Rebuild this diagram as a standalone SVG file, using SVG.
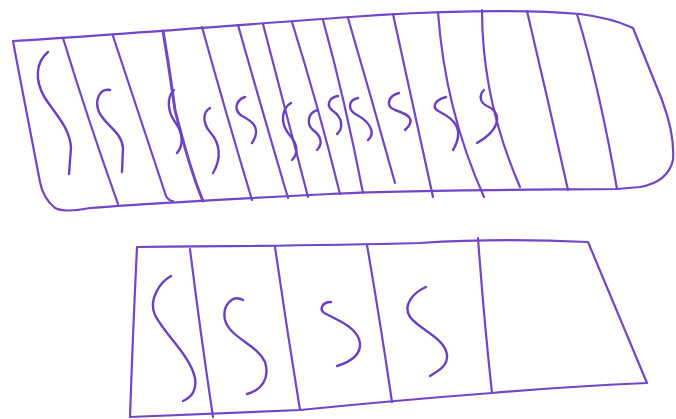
<svg xmlns="http://www.w3.org/2000/svg" width="676" height="419" viewBox="0 0 676 419">
<style>
.pen{fill:none;stroke:#7246c8;stroke-width:2.2;stroke-linecap:round;stroke-linejoin:round}
.thick{stroke-width:3}
.sq{fill:none;stroke:#6a3fc4;stroke-width:2.4;stroke-linecap:round;stroke-linejoin:round}
</style>
<rect width="676" height="419" fill="#ffffff"/>
<g id="top-strip">
<path class="pen" d="M13,41 C100,36 250,24 350,17 C430,11 520,9 580,14 Q612,18 633,28 L662,100 Q675,135 673,160 Q668,182 640,187 L617,189 C500,190 400,190 330,194 C250,198 150,203 90,208 Q65,213 55,208 Q43,198 40,182 C32,140 22,90 13,41 Z"/>
<g id="top-dividers">
<path class="pen" d="M63,38 Q88,120 118,204"/>
<path class="pen" d="M113,36 Q140,118 166,196 Q169,201 173,201"/>
<path class="pen thick" d="M163,31 Q168,60 175,110 Q190,170 203,201"/>
<path class="pen" d="M202,27 Q225,110 252,200"/>
<path class="pen" d="M238,25 Q262,110 288,198"/>
<path class="pen" d="M263,24 Q285,110 308,197"/>
<path class="pen" d="M292,22 Q318,105 340,194"/>
<path class="pen" d="M323,20 Q345,100 363,193"/>
<path class="pen" d="M348,18 Q372,100 395,183"/>
<path class="pen" d="M393,14 Q412,100 433,197"/>
<path class="pen" d="M438,12 Q445,110 484,197"/>
<path class="pen" d="M482,10 Q482,100 520,187"/>
<path class="pen" d="M527,11 Q548,100 568,190"/>
<path class="pen" d="M577,14 Q600,90 617,189"/>
</g>
<g id="top-squiggles">
<path class="sq" d="M48,52 C36,62 34,80 45,98 C56,115 70,128 71,148 L69,174"/>
<path class="sq" d="M110,90 C100,88 94,100 99,112 C105,125 122,132 123,148 L122,172"/>
<path class="sq" d="M174,90 C166,98 168,112 175,122 C183,132 184,145 177,153"/>
<path class="sq" d="M210,108 C203,112 202,122 210,132 C220,143 222,158 213,173"/>
<path class="sq" d="M245,97 C236,100 233,110 242,116 C252,121 262,128 252,143"/>
<path class="sq" d="M291,103 C282,108 280,122 288,133 C296,142 300,152 292,160"/>
<path class="sq" d="M318,110 C308,112 306,124 313,130 C320,135 324,143 317,150"/>
<path class="sq" d="M338,96 C328,98 326,106 333,111 C342,117 344,128 337,134"/>
<path class="sq" d="M358,98 C348,100 347,110 357,115 C370,122 376,133 368,140"/>
<path class="sq" d="M399,93 C388,96 385,106 395,110 C406,114 418,118 405,130"/>
<path class="sq" d="M446,97 C434,100 431,108 440,112 C452,118 466,128 453,150"/>
<path class="sq" d="M484,90 C479,95 479,103 489,107 C500,112 503,128 477,143"/>
</g>
</g>
<g id="bottom-strip">
<path class="pen" d="M137,247 Q300,246 420,243 Q500,238 588,242 L647,383 Q560,387 492,393 Q400,400 300,410 L130,417 Q133,330 137,247 Z"/>
<g id="bottom-dividers">
<path class="pen" d="M190,249 Q200,330 213,417"/>
<path class="pen" d="M275,247 Q287,330 300,410"/>
<path class="pen" d="M367,245 Q380,320 392,402"/>
<path class="pen" d="M478,238 Q484,320 492,393"/>
</g>
<g id="bottom-squiggles">
<path class="sq" d="M171,276 C160,282 148,300 155,315 C165,335 190,355 195,378 C197,392 190,398 183,401"/>
<path class="sq" d="M243,300 C232,294 222,306 225,320 C230,338 258,345 265,362 C270,378 262,390 247,394"/>
<path class="sq" d="M331,302 C322,302 318,310 326,314 C338,320 358,328 360,343 C361,355 350,362 337,366"/>
<path class="sq" d="M426,287 C414,292 402,305 410,317 C420,330 445,338 447,355 C448,365 440,370 430,376"/>
</g>
</g>
</svg>
